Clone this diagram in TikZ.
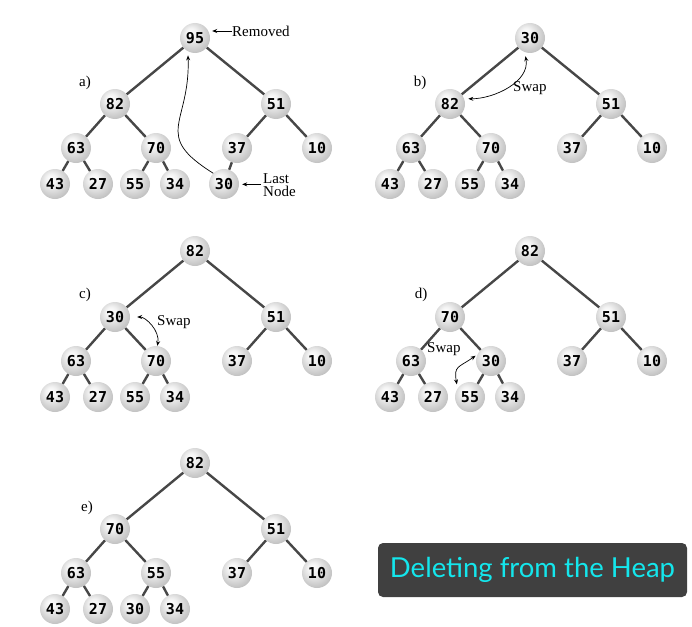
\documentclass[tikz,border=0pt]{standalone}
\usepackage{fontspec}
\setmainfont{Liberation Serif}
\newfontfamily\numfont{DejaVu Sans Mono}
\newfontfamily\boxfont{Lato}
\usetikzlibrary{arrows.meta}
\definecolor{boxgray}{HTML}{404040}
\definecolor{boxcyan}{HTML}{14E6EC}
\pgfdeclareradialshading{heapball}{\pgfpoint{-8bp}{10bp}}{%
  color(0bp)=(white);
  color(9bp)=(black!5);
  color(32bp)=(black!27);
  color(50bp)=(black!55)}
\tikzset{
  ball/.style={circle, minimum size=30pt, inner sep=0pt, shading=heapball,
    font=\numfont\bfseries\fontsize{15}{15}\selectfont},
  edge/.style={draw=black!72, line width=2.4pt},
  arr/.style={line width=0.7pt, -{Stealth[length=5pt,width=4pt]}},
  darr/.style={line width=0.7pt, {Stealth[length=5pt,width=4pt]}-{Stealth[length=5pt,width=4pt]}},
  lbl/.style={font=\fontsize{15}{15}\selectfont, inner sep=0pt},
}
\newcommand\heaptree[3]{%
  \begin{scope}[shift={#2}]
    \foreach \x/\y [count=\i] in {195/38,115/104,276/104,76/148,156/148,237/148,317/148,55/184,98/184,135/184,175/184}
      \coordinate (#1pos\i) at (\x,\y);
    \foreach \v [count=\i] in {#3}
      \node[ball] (#1\i) at (#1pos\i) {\v};
    \foreach \c/\p in {2/1,3/1,4/2,5/2,6/3,7/3,8/4,9/4,10/5,11/5}
      \draw[edge] (#1\p) -- (#1\c);
  \end{scope}}
\begin{document}
\begin{tikzpicture}[x=1pt,y=-1pt]
\useasboundingbox (0,0) rectangle (692,626);
% a)
\heaptree{a}{(0,0)}{95,82,51,63,70,37,10,43,27,55,34}
\node[ball] (a12) at (224,184) {30};
\draw[edge] (a6) -- (a12);
\node[lbl] (la) at (85,83) {a)};
\node[lbl, anchor=west] (rem) at (232,31) {Removed};
\draw[arr, shorten >=2pt] (rem.west) -- (rem.west -| a1.east);
\node[lbl, anchor=base west] (last) at (263,183) {Last};
\node[lbl, anchor=base west] (lastn) at (263,196) {Node};
\draw[arr, shorten >=3pt] (last.south west) ++(-2,1) coordinate (lastarr) -- (lastarr -| a12.east);
\draw[arr, shorten >=4pt] (a12.135) to[out=148, in=272, looseness=1.5] (a1.242);
% b)
\heaptree{b}{(335,0)}{30,82,51,63,70,37,10,43,27,55,34}
\node[lbl] (lb) at (420,83) {b)};
\node[lbl, anchor=west] (swb) at (513,88) {Swap};
\draw[darr, shorten <=4pt, shorten >=4pt] (b1.250) to[out=-80, in=0] (b2.20);
% c)
\heaptree{c}{(0,213)}{82,30,51,63,70,37,10,43,27,55,34}
\node[lbl] (lc) at (85,295) {c)};
\node[lbl, anchor=west] (swc) at (157,322) {Swap};
\draw[darr, shorten <=7pt] (c2.0) to[out=0, in=80] (c5.85);
% d)
\heaptree{d}{(335,213)}{82,70,51,63,30,37,10,43,27,55,34}
\node[lbl] (ld) at (421,295) {d)};
\node[lbl, anchor=west] (swd) at (427,349) {Swap};
\draw[darr, shorten <=2pt, shorten >=4pt] (d5.155) to[out=215, in=100, looseness=1.5] (d10.145);
% e)
\heaptree{e}{(0,425)}{82,70,51,63,55,37,10,43,27,30,34}
\node[lbl] (le) at (87,508) {e)};
% title box
\node[fill=boxgray, rounded corners=5pt, minimum width=309pt, minimum height=54pt,
  text=boxcyan, font=\boxfont\fontsize{27.5}{27.5}\selectfont] (title) at (532.5,570) {Deleting from the Heap};
\end{tikzpicture}
\end{document}
